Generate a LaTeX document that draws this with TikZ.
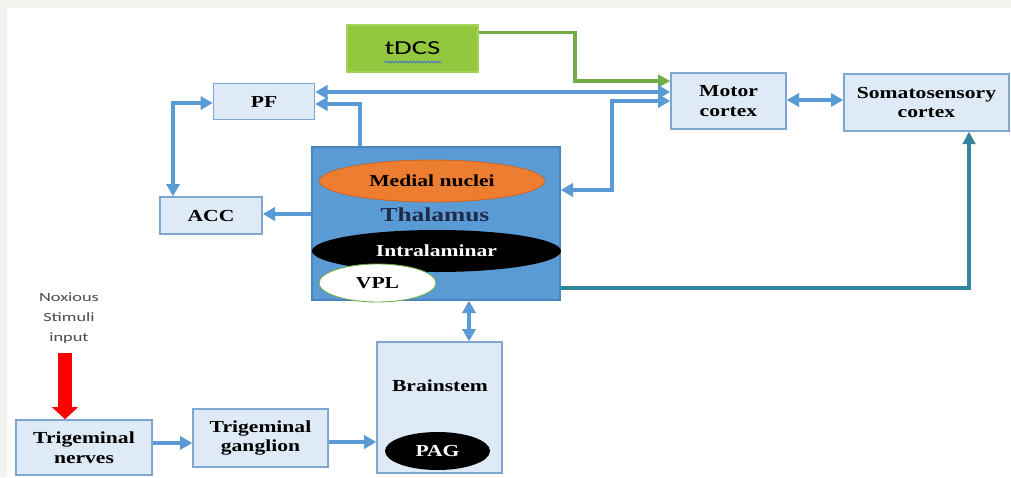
\documentclass[tikz,border=0pt]{standalone}
\usepackage{fontspec}
\setmainfont{Liberation Serif}
\newfontfamily\calib{Carlito}
\usepackage{graphicx}
\usetikzlibrary{arrows.meta,shapes.geometric,calc,decorations.pathmorphing}
\definecolor{bgc}{HTML}{F2F3EE}
\definecolor{boxfill}{HTML}{DEEAF6}
\definecolor{boxline}{HTML}{7EA6D2}
\definecolor{thalfill}{HTML}{5B9BD5}
\definecolor{thalline}{HTML}{4A85BE}
\definecolor{arrc}{HTML}{5B9BD5}
\definecolor{garrc}{HTML}{70AD47}
\definecolor{tdcsfill}{HTML}{92C83E}
\definecolor{tdcsline}{HTML}{A6D25A}
\definecolor{tealc}{HTML}{31859C}
\definecolor{orangec}{HTML}{ED7D31}
\definecolor{orangeline}{HTML}{C9672A}
\definecolor{navyc}{HTML}{1F2B4A}
\definecolor{noxc}{HTML}{4A4A4A}
\definecolor{squig}{HTML}{4472C4}
\newcommand\sx[1]{\scalebox{1.28}[1]{#1}}
\newcommand\sxs[1]{\scalebox{1.45}[1]{#1}}
\begin{document}
\begin{tikzpicture}[x=0.02cm,y=-0.02cm,
  >={Triangle[length=7pt,width=7.5pt]},
  box/.style={draw=boxline, fill=boxfill, line width=0.8pt, inner sep=0pt, align=center,
    font=\fontsize{9.6pt}{11.3pt}\selectfont\bfseries},
  oval/.style={ellipse, inner sep=0pt, align=center,
    font=\fontsize{9.6pt}{11.3pt}\selectfont\bfseries},
  lbl/.style={inner sep=0pt, align=center, font=\fontsize{9.6pt}{11.3pt}\selectfont\bfseries},
  barrow/.style={draw=arrc, line width=2.2pt},
  garrow/.style={draw=garrc, line width=2.1pt, -{Triangle[length=7pt,width=7pt]}},
  tarrow/.style={draw=tealc, line width=2pt, -{Triangle[length=7pt,width=7pt]}},
  rarrow/.style={draw=red, line width=7.4pt, -{Triangle[length=7pt,width=14.7pt]}}
]
\useasboundingbox (0,0) rectangle (1011,477);
\fill[bgc] (0,0) rectangle (1011,477);
\fill[white] (7,8) rectangle (1011,477);

% nodes
\node[draw=tdcsline, fill=tdcsfill, line width=0.6pt, minimum width=131*0.02cm, minimum height=47*0.02cm, inner sep=0pt,
  font=\calib\fontsize{11.3pt}{13pt}\selectfont] (tdcs) at (412.5,48.5) {\sxs{tDCS}};
\draw[squig, line width=0.5pt, decorate, decoration={snake, amplitude=0.5pt, segment length=2pt}]
  ($(tdcs.center)+(-28,13.5)$) -- ($(tdcs.center)+(29,13.5)$);

\node[box, minimum width=115*0.02cm, minimum height=56*0.02cm] (motor) at (728.5,101) {\sx{Motor}\\\sx{cortex}};
\node[box, minimum width=165*0.02cm, minimum height=57*0.02cm] (soma) at (926.5,102.5) {\sx{Somatosensory}\\\sx{cortex}};
\node[box, minimum width=101*0.02cm, minimum height=36*0.02cm] (pf) at (264,101.5) {\sx{PF}};
\node[box, minimum width=102*0.02cm, minimum height=37*0.02cm] (acc) at (211,215.5) {\sx{ACC}};

\node[draw=thalline, fill=thalfill, line width=0.8pt, minimum width=248*0.02cm, minimum height=153*0.02cm, inner sep=0pt] (thal) at (436,223.5) {};
\node[oval, draw=orangeline, line width=0.5pt, fill=orangec, minimum width=225*0.02cm, minimum height=42*0.02cm] (medial) at (432,181) {\sx{Medial nuclei}};
\node[lbl, text=navyc, font=\fontsize{11.3pt}{13pt}\selectfont\bfseries] (thaltxt) at (435,215) {\sx{Thalamus}};
\node[oval, fill=black, text=white, minimum width=249*0.02cm, minimum height=42*0.02cm] (intra) at (436.5,251) {\sx{Intralaminar}};
\node[oval, draw=garrc, line width=0.5pt, fill=white, minimum width=117*0.02cm, minimum height=38*0.02cm] (vpl) at (377.5,283) {\sx{VPL}};

\node[box, minimum width=125*0.02cm, minimum height=131*0.02cm] (bs) at (439.5,407.5) {};
\node[lbl] (bstxt) at (440,386) {\sx{Brainstem}};
\node[oval, fill=black, text=white, minimum width=105*0.02cm, minimum height=38*0.02cm] (pag) at (437.5,451) {\sx{PAG}};

\node[box, minimum width=136*0.02cm, minimum height=55*0.02cm] (tn) at (84,447.5) {\sx{Trigeminal}\\\sx{nerves}};
\node[box, minimum width=135*0.02cm, minimum height=58*0.02cm] (tg) at (260.5,438) {\sx{Trigeminal}\\\sx{ganglion}};

\node[inner sep=0pt, align=center, text=noxc, font=\calib\fontsize{7.2pt}{11.3pt}\selectfont] (nox) at (69,318) {\sxs{Noxious}\\\sxs{Stimuli}\\\sxs{input}};
\coordinate (redstart) at (65,353);

% connectors
\draw[garrow] ($(tdcs.north east)+(0,8)$) -| (575,81) -- (motor.west |- 0,81);
\draw[barrow, <->] (pf.east |- 0,92) -- (motor.west |- 0,92);
\draw[barrow, <->] (thal.east |- 0,190) -| (612,101) -- (motor.west |- 0,101);
\draw[barrow, ->] (thal.north -| 360,0) |- (pf.east |- 0,104);
\draw[barrow, <->] (pf.west |- 0,103) -| (acc.north -| 173,0);
\draw[barrow, ->] (thal.west |- 0,214) -- (acc.east |- 0,214);
\draw[barrow, <->] (thal.south -| 469,0) -- (bs.north -| 469,0);
\draw[barrow, ->] (tn.east |- 0,443) -- (tg.west |- 0,443);
\draw[barrow, ->] (tg.east |- 0,442) -- (bs.west |- 0,442);
\draw[barrow, <->] (motor.east |- 0,100) -- (soma.west |- 0,100);
\draw[tarrow] (thal.east |- 0,288) -| (soma.south -| 969,0);
\draw[rarrow] (redstart) -- (tn.north -| 65,0);
\end{tikzpicture}
\end{document}
